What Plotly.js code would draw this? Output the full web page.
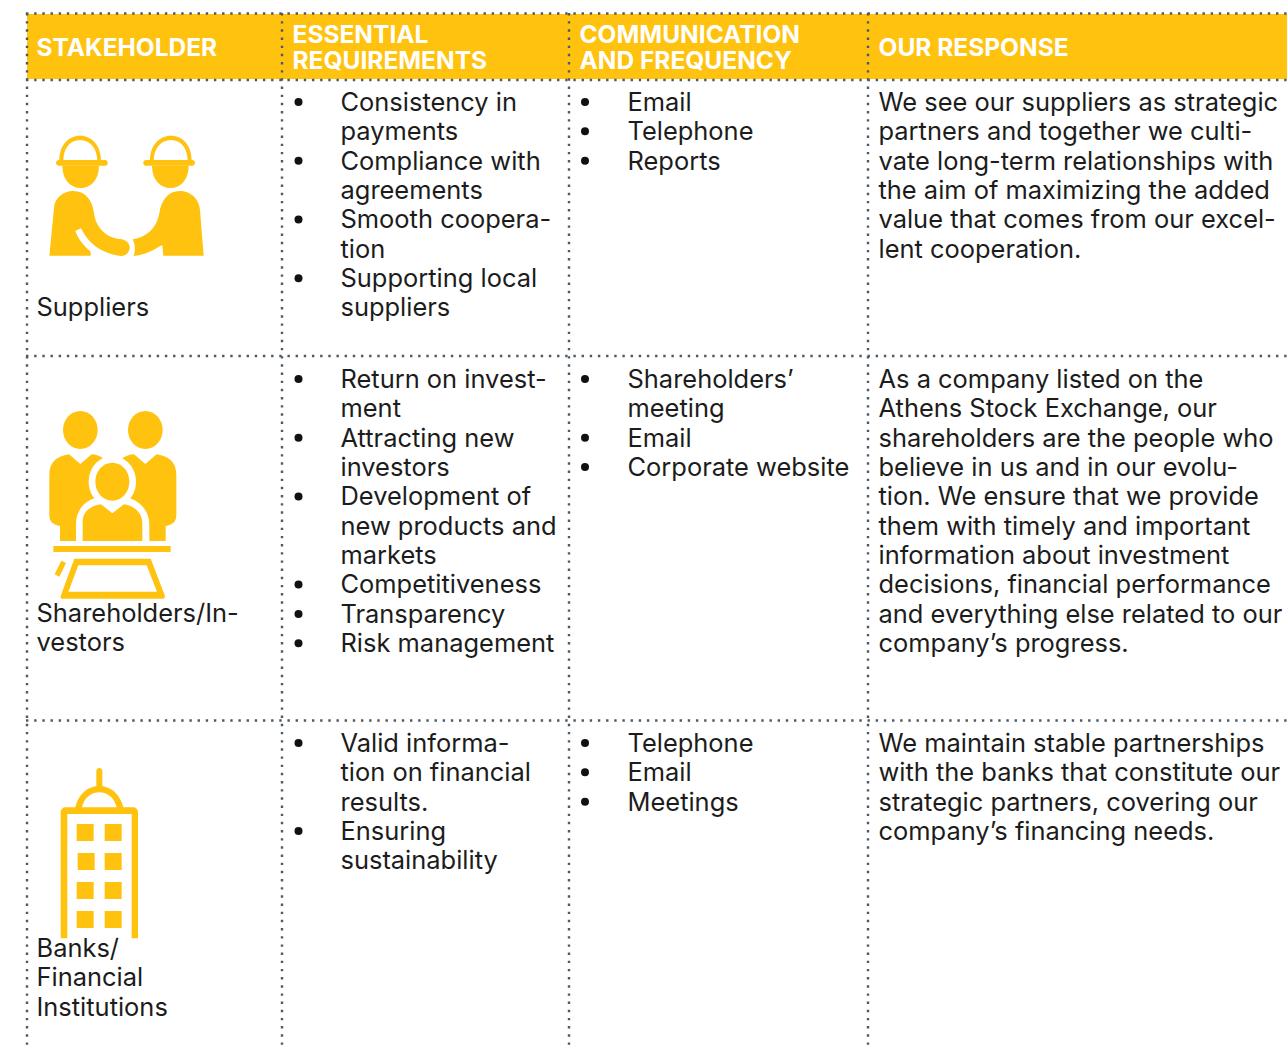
<!DOCTYPE html>
<html><head><meta charset="utf-8">
<script src="https://cdn.plot.ly/plotly-3.0.1.min.js"></script>
<style>html,body{margin:0;padding:0;background:#fff;overflow:hidden}</style>
</head><body><div id="chart" style="width:1287px;height:1048px"></div>
<script>
// ---- table content ----
const headers = [["STAKEHOLDER"],["ESSENTIAL","REQUIREMENTS"],["COMMUNICATION","AND FREQUENCY"],["OUR RESPONSE"]];
const stakeholders = [["Suppliers"],["Shareholders/In-","vestors"],["Banks/","Financial","Institutions"]];
const requirements = [
 [["Consistency in","payments"],["Compliance with","agreements"],["Smooth coopera-","tion"],["Supporting local","suppliers"]],
 [["Return on invest-","ment"],["Attracting new","investors"],["Development of","new products and","markets"],["Competitiveness"],["Transparency"],["Risk management"]],
 [["Valid informa-","tion on financial","results."],["Ensuring","sustainability"]]
];
const communication = [
 [["Email"],["Telephone"],["Reports"]],
 [["Shareholders’","meeting"],["Email"],["Corporate website"]],
 [["Telephone"],["Email"],["Meetings"]]
];
const responses = [
 ["We see our suppliers as strategic","partners and together we culti-","vate long-term relationships with","the aim of maximizing the added","value that comes from our excel-","lent cooperation."],
 ["As a company listed on the","Athens Stock Exchange, our","shareholders are the people who","believe in us and in our evolu-","tion. We ensure that we provide","them with timely and important","information about investment","decisions, financial performance","and everything else related to our","company’s progress."],
 ["We maintain stable partnerships","with the banks that constitute our","strategic partners, covering our","company’s financing needs."]
];
// ---- layout constants ----
const W=1287,H=1048, LH=29.37;
const YEL='#FFC20E', INK='#1c1c1c', DOT='#4d5a66';
const FONT='Inter';
const BODY=25.45, HEAD=24.5;
const TEXT_DY=2;
const rowY=[102.5,379.5,743.5], stakeY=[307.5,613.5,948.5];
const colX={stake:36.5,req:340.5,com:627.5,resp:878.5,reqB:298.5,comB:585};
const vLines=[27,282,569,868], hLines=[13.5,80,356,720.5];

const tx=[],ty=[],tt=[],bx=[],by=[];
function addBlock(x,y0,lines){lines.forEach((l,i)=>{tx.push(x);ty.push(y0+TEXT_DY+i*LH);tt.push(l);});}
function addBullets(x,bx0,y0,items){let n=0;items.forEach(it=>{bx.push(bx0);by.push(y0-0.5+n*LH);it.forEach(l=>{tx.push(x);ty.push(y0+TEXT_DY+n*LH);tt.push(l);n++;});});}
stakeholders.forEach((s,i)=>addBlock(colX.stake,stakeY[i],s));
requirements.forEach((s,i)=>addBullets(colX.req,colX.reqB,rowY[i],s));
communication.forEach((s,i)=>addBullets(colX.com,colX.comB,rowY[i],s));
responses.forEach((s,i)=>addBlock(colX.resp,rowY[i],s));

const hx=[],hy=[],ht=[];
[36.5,292.5,579.5,878.5].forEach((x,i)=>{const L=headers[i];L.forEach((l,j)=>{hx.push(x);hy.push(L.length==1?50:37+j*26);ht.push(l);});});

// ---- icons ----
function zp(path,ox,oy,mirror){ // zoom-crop coordinates → page
  let isX=true;
  return path.replace(/-?\d+(\.\d+)?/g,m=>{let v=+m,r;
    if(isX){ if(mirror!=null)v=mirror-v; r=ox+v/3;} else r=oy+v/3;
    isX=!isX; return r.toFixed(2);});
}
function ell(cx,cy,rx,ry){const k=.5523;return `M${cx-rx},${cy} C${cx-rx},${cy-k*ry} ${cx-k*rx},${cy-ry} ${cx},${cy-ry} C${cx+k*rx},${cy-ry} ${cx+rx},${cy-k*ry} ${cx+rx},${cy} C${cx+rx},${cy+k*ry} ${cx+k*rx},${cy+ry} ${cx},${cy+ry} C${cx-k*rx},${cy+ry} ${cx-rx},${cy+k*ry} ${cx-rx},${cy} Z`;}
const shapes=[];
function fill(p,c){shapes.push({type:'path',xref:'x',yref:'y',path:p,fillcolor:c,line:{width:0},layer:'above'});}

// header band
shapes.push({type:'rect',xref:'x',yref:'y',x0:27,x1:W,y0:14,y1:79,fillcolor:YEL,line:{width:0},layer:'below'});
// dotted rules
vLines.forEach(x=>shapes.push({type:'line',xref:'x',yref:'y',x0:x,x1:x,y0:13,y1:H+6,line:{color:DOT,width:2.4,dash:'2.4px,5.77px'},layer:'above'}));
hLines.forEach(y=>shapes.push({type:'line',xref:'x',yref:'y',x0:26,x1:W+4,y0:y,y1:y,line:{color:DOT,width:2.4,dash:'2.4px,5.77px'},layer:'above'}));

// icon 1: handshake
const hatPath='M118,183 C118,135 145,107 180,107 C215,107 243,135 243,183 L232,183 C232,145 210,120 180,120 C150,120 130,145 130,183 Z';
const brimPath='M117,180 L255,180 C266,180 266,197 255,197 L117,197 C105,197 105,180 117,180 Z';
const headPath='M127,197 L237,197 C237,240 212,264 182,264 C152,264 127,240 127,197 Z';
[null,633].forEach(m=>{[hatPath,brimPath,headPath].forEach(p=>fill(zp(p,20,100,m),YEL));});
fill(zp('M88,467 L102,325 C102,295 130,273 160,273 C195,273 218,300 222,340 C228,385 262,415 300,417 C318,418 329,430 329,442 C329,458 318,468 303,468 C255,462 210,440 183,385 L166,392 C175,420 195,440 212,455 L212,467 Z',20,100),YEL);
fill(zp('M551,467 L540,330 C537,295 510,273 480,273 C445,273 423,300 418,340 C410,385 380,412 338,418 C345,432 347,450 341,468 C375,465 400,450 427,435 L430,467 Z',20,100),YEL);

// icon 2: shareholders
const backBody='M147,163 C110,170 88,185 88,225 L88,345 C88,365 100,375 120,378 L120,423 L250,423 L250,175 C240,168 228,163 215,163 L181,192 Z';
[null,557].forEach(m=>fill(zp(backBody,20,400,m),YEL));
fill(zp(ell(181,90,52,57),20,400),YEL);
fill(zp(ell(376,90,52,57),20,400),YEL);
fill(zp('M168,423 L168,370 C168,335 190,305 225,295 L330,295 C365,308 388,335 388,375 L388,423 Z',20,400),'#fff');
fill(zp(ell(277,245,71,77),20,400),'#fff');
fill(zp(ell(277,245,51,57),20,400),YEL);
fill(zp('M188,423 L188,365 C188,335 210,318 243,313 L277,340 L312,313 C345,318 367,340 367,370 L367,423 Z',20,400),YEL);
fill(zp('M100,438 L452,438 L452,456 L100,456 Z',20,400),YEL);
fill(zp('M163,476 L392,476 L435,588 C435,592 433,596 428,596 L127,596 C122,596 120,592 122,588 Z',20,400),YEL);
fill(zp('M175,496 L380,496 L411,575 L145,575 Z',20,400),'#fff');
fill(zp('M124,482 L138,489 L118,530 L104,523 Z',20,400),YEL);

// icon 3: tower
const iconOx=20, iconOy=760;
fill(zp('M229,80 L229,33 C229,21 247,21 247,33 L247,80 Z',iconOx,iconOy),YEL);
fill(zp('M165,145 C175,100 205,78 238,78 C271,78 300,100 311,145 L291,145 C283,112 262,97 238,97 C214,97 193,112 185,145 Z',iconOx,iconOy),YEL);
fill(zp('M122,535 L122,158 C122,148 128,142 138,142 L338,142 C348,142 354,148 354,158 L354,535 L335,535 L335,162 L142,162 L142,535 Z',iconOx,iconOy),YEL);
const win=[[170,192],[254,192],[173,279],[254,279],[170,366],[254,366],[170,453],[254,453]];
win.forEach(w=>fill(zp(`M${w[0]},${w[1]} L${w[0]+51},${w[1]} L${w[0]+51},${w[1]+51} L${w[0]},${w[1]+51} Z`,iconOx,iconOy),YEL));

const data=[
 {type:'scatter',mode:'text',x:tx,y:ty,text:tt,textposition:'middle right',cliponaxis:false,hoverinfo:'skip',
  textfont:{family:FONT,size:BODY,color:INK,weight:400}},
 {type:'scatter',mode:'text',x:hx,y:hy,text:ht,textposition:'middle right',cliponaxis:false,hoverinfo:'skip',
  textfont:{family:FONT,size:HEAD,color:'#fff',weight:700}},
 {type:'scatter',mode:'markers',x:bx,y:by,hoverinfo:'skip',marker:{size:8,color:'#111',line:{width:0}}}
];
const layout={width:W,height:H,margin:{l:0,r:0,t:0,b:0},paper_bgcolor:'#fff',plot_bgcolor:'#fff',showlegend:false,
 xaxis:{range:[0,W],visible:false,fixedrange:true},
 yaxis:{range:[H,0],visible:false,fixedrange:true},
 shapes};
Plotly.newPlot('chart',data,layout,{displayModeBar:false,staticPlot:true});
</script></body></html>
